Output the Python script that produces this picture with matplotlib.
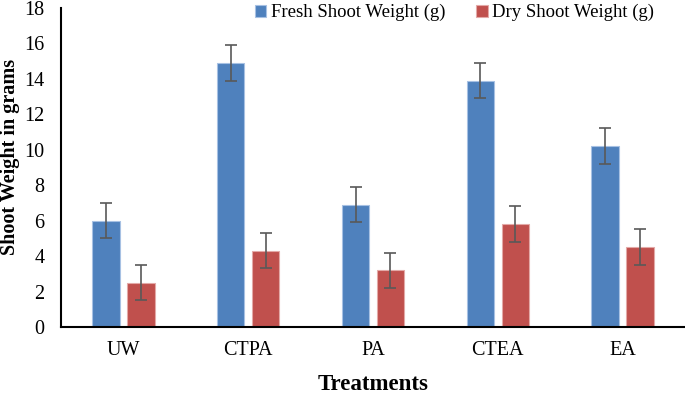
import numpy as np
import matplotlib.pyplot as plt

plt.rcParams['font.family'] = ['Liberation Serif', 'DejaVu Serif']

# data
treatments = ["UW", "CTPA", "PA", "CTEA", "EA"]
fresh = [6.0, 14.9, 6.9, 13.9, 10.2]
dry = [2.5, 4.3, 3.2, 5.8, 4.5]
fresh_err = [1.0, 1.0, 1.0, 1.0, 1.0]
dry_err = [1.0, 1.0, 1.0, 1.0, 1.0]

x = np.arange(len(treatments))
w = 0.22
off = 0.14

fig = plt.figure(figsize=(6.85, 3.93), dpi=100)
ax = fig.add_axes([0.089, 0.168, 0.911, 0.812])

err_kw = dict(ecolor="#595959", elinewidth=1.2, capsize=4, capthick=1.2)
ax.bar(x - off, fresh, w, color="#4F81BD", edgecolor="#A7C1E3", linewidth=0.8,
       yerr=fresh_err, error_kw=err_kw, label="Fresh Shoot Weight (g)")
ax.bar(x + off, dry, w, color="#C0504D", edgecolor="#E3A9A7", linewidth=0.8,
       yerr=dry_err, error_kw=err_kw, label="Dry Shoot Weight (g)")

ax.set_xlim(-0.5, 4.5)
ax.set_ylim(0, 18)
ax.set_yticks(range(0, 19, 2))
ax.set_xticks(x)
ax.set_xticklabels(treatments)
ax.tick_params(length=0, labelsize=14.5)
ax.tick_params(axis="y", pad=12)
ax.tick_params(axis="x", pad=10)

for s in ["top", "right"]:
    ax.spines[s].set_visible(False)
ax.spines["left"].set_linewidth(1.5)
ax.spines["bottom"].set_linewidth(1.5)

ax.set_xlabel("Treatments", fontsize=16.5, fontweight="bold", labelpad=10)
ax.set_ylabel("Shoot Weight in grams", fontsize=14.5, fontweight="bold")
ax.yaxis.set_label_coords(-0.066, 0.533)

ax.legend(loc="upper center", bbox_to_anchor=(0.631, 1.065), ncol=2, frameon=False,
          fontsize=13.5, handlelength=0.6, handleheight=0.6, handletextpad=0.25,
          columnspacing=1.65)

plt.savefig("out.png", dpi=100)
